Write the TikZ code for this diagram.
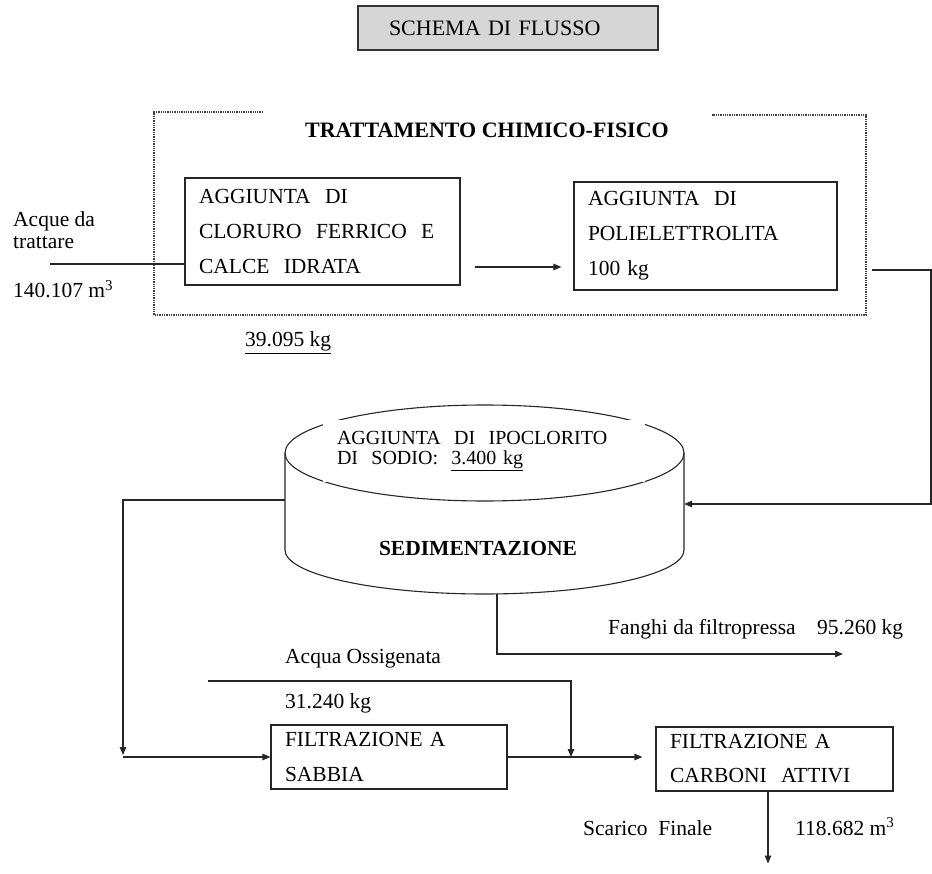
\documentclass[tikz,border=0pt]{standalone}
\usepackage{fontspec}
\setmainfont{Liberation Serif}
\usetikzlibrary{arrows.meta,calc}

\tikzset{
  flow/.style={line width=1.1pt, black!85},
  arr/.style={flow, -{Triangle[length=8pt,width=6.5pt]}},
  procbox/.style={draw=black!85, line width=1.1pt, align=left, inner xsep=14pt,
    inner ysep=0pt, font=\fontsize{21.5}{35}\selectfont},
  lbl/.style={anchor=base west, inner sep=0pt, font=\fontsize{21.5}{24}\selectfont},
  frame/.style={densely dotted, line width=1.3pt, black!75},
}

\begin{document}
\begin{tikzpicture}[x=1pt, y=-1pt]
\useasboundingbox (0,0) rectangle (932,874);

% title
\node[draw=black!80, line width=1.3pt, fill=black!16, minimum width=300pt, minimum height=44pt,
  text width=238pt, inner xsep=31pt, align=left, font=\fontsize{22}{24}\selectfont]
  (title) at (508,28) {SCHEMA DI FLUSSO};

% chemical-physical treatment frame
\draw[frame] (263,112) -- (154,112) -- (154,315) -- (866,315) -- (866,115) -- (712,115);
\node[font=\bfseries\fontsize{22}{24}\selectfont, anchor=base, inner sep=0pt]
  (hdr) at (487,138) {TRATTAMENTO CHIMICO-FISICO};

% process boxes
\node[procbox, minimum width=275pt, minimum height=107pt, text width=247pt]
  (box1) at (322.5,231.5) {AGGIUNTA\ \ DI\\CLORURO\ \ FERRICO\ \ E\\CALCE\ \ IDRATA};
\node[procbox, minimum width=263pt, minimum height=108pt, text width=235pt]
  (box2) at (705.5,236) {AGGIUNTA\ \ DI\\POLIELETTROLITA\\100 kg};
\node[procbox, minimum width=236pt, minimum height=64pt, text width=208pt]
  (box3) at (389,757) {FILTRAZIONE A\\SABBIA};
\node[procbox, minimum width=237pt, minimum height=64pt, text width=209pt,
  font=\fontsize{21.5}{34}\selectfont]
  (box4) at (774.5,759) {FILTRAZIONE A\\CARBONI\ \ ATTIVI};

% sedimentation tank
\node[minimum width=399pt, minimum height=190pt, inner sep=0pt] (sed) at (484.5,500) {};
\draw[flow] (484.5,453) ellipse [x radius=199.5pt, y radius=48pt];
\draw[flow] (285,453) -- (285,550) arc[start angle=180, end angle=360, x radius=199.5pt, y radius=44pt]
  -- (684,453);
\node[fill=white, minimum width=322pt, minimum height=62pt, text width=294pt, inner xsep=14pt,
  inner ysep=0pt, align=left, font=\fontsize{20}{20}\selectfont]
  (sedtxt) at (484,451) {AGGIUNTA\ \ DI\ \ IPOCLORITO\\DI\ \ SODIO:\ \ \underline{3.400 kg}};
\node[font=\bfseries\fontsize{21.5}{24}\selectfont, anchor=base, inner sep=0pt]
  (sedname) at (478,555) {SEDIMENTAZIONE};

% labels
\node[lbl] (acque) at (13,227) {Acque da};
\node[lbl] (acque2) at (13,249) {trattare};
\node[lbl] (qin) at (13,298) {140.107 m\textsuperscript{3}};
\node[lbl] (q1) at (245,347) {\underline{39.095 kg}};
\node[lbl] (ossi) at (285,663) {Acqua Ossigenata};
\node[lbl] (q2) at (285,708) {31.240 kg};
\node[lbl] (fanghi) at (608,634) {Fanghi da filtropressa};
\node[lbl] (q3) at (817,634) {95.260 kg};
\node[lbl] (scarico) at (583,835) {Scarico\ \ Finale};
\node[lbl] (qout) at (795,835) {118.682 m\textsuperscript{3}};

% connectors
\coordinate (in) at (50,264);
\draw[flow] (in) -- (box1.west |- in);
\draw[arr, shorten <=14pt, shorten >=12pt] (box1.east |- 0,267) -- (box2.west |- 0,267);

\coordinate (out2) at (872,270);
\draw[arr] (out2) -- (931,270) |- ([yshift=-4pt]sed.east);

\coordinate (lb) at (123,757);
\draw[arr] (sed.west) -| ([yshift=2pt]lb);
\draw[arr] (lb) -- (box3.west);

\coordinate (fb) at (497,594);
\draw[arr] (fb) |- (843,654);

\coordinate (ox) at (208,681);
\draw[arr] (ox) -| (571,757);
\draw[arr, shorten >=13pt] (box3.east) -- (box4.west |- box3.east);

\draw[arr] ([xshift=-6.5pt]box4.south) -- ++(0,72);
\end{tikzpicture}
\end{document}
